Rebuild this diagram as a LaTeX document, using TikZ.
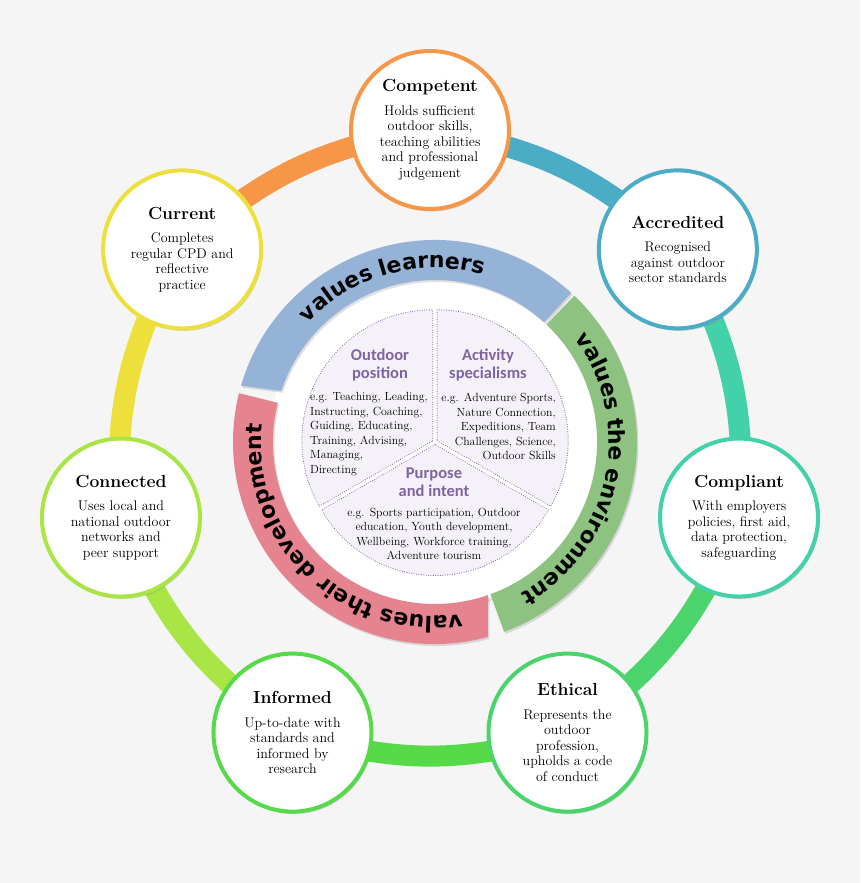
\documentclass[tikz,border=0pt]{standalone}
\usepackage{fontspec}
\usepackage{xcolor}
\usepackage{tikz}
\usetikzlibrary{positioning,shadows,backgrounds,decorations.text}
\newfontfamily\carlito{Carlito}
\newfontfamily\arcfont{DejaVu Sans}
\definecolor{pagebg}{HTML}{F5F5F5}
\definecolor{ringorange}{HTML}{F79646}
\definecolor{ringblue}{HTML}{4BACC6}
\definecolor{ringteal}{HTML}{42D1A8}
\definecolor{ringgreen}{HTML}{4CD46C}
\definecolor{ringgreentwo}{HTML}{57DA4A}
\definecolor{ringlime}{HTML}{A8E545}
\definecolor{ringyellow}{HTML}{EDE03D}
\definecolor{bandblue}{HTML}{95B3D7}
\definecolor{bandgreen}{HTML}{8DC281}
\definecolor{bandred}{HTML}{E5838F}
\definecolor{purp}{HTML}{8064A2}
\definecolor{lavender}{HTML}{F4F1F8}
\newcommand{\traittitle}[1]{{\fontsize{17.5}{20}\selectfont\bfseries #1}\\[8pt]}

\begin{document}
\begin{tikzpicture}[x=1pt, y=1pt,
  trait/.style={circle, draw=#1, line width=4pt, fill=white, minimum size=158pt, inner sep=0pt, align=center,
    font=\fontsize{14}{15.5}\selectfont,
    drop shadow={shadow xshift=1.5pt, shadow yshift=-2.5pt, opacity=0.3}},
  seg/.style={draw=#1, line width=21pt},
  band/.style={fill=#1, drop shadow={shadow xshift=1.5pt, shadow yshift=-2pt, opacity=0.25}},
  arclabel/.style={decorate, decoration={text along path, text align=center,
    text={|\arcfont\bfseries\fontsize{22}{22}\selectfont|#1}}},
  sector/.style={fill=lavender, draw=purp, line width=1.1pt, dash pattern=on 0pt off 2.4pt, line cap=round},
  heading/.style={font=\carlito\bfseries\fontsize{16.5}{18}\selectfont, text=purp, align=center},
  detail/.style={font=\fontsize{11.8}{14.5}\selectfont, inner sep=0pt}
]
\useasboundingbox (-430,-436) rectangle (430,447);

% inner wheel
\fill[white, drop shadow={shadow xshift=1pt, shadow yshift=-2pt, opacity=0.2}] (5,5) circle[radius=166];
\begin{scope}[shift={(5,5)}]
  \path[band=bandgreen] (46.4:202) arc[start angle=46.4, end angle=-70, radius=202] -- ++(-70:-40)
    arc[start angle=-70, end angle=46.5, radius=162] -- cycle;
  \path[band=bandblue] (163.8:202) arc[start angle=163.8, end angle=47.6, radius=202] -- ++(47.6:-40)
    arc[start angle=47.6, end angle=161.6, radius=162] -- cycle;
  \path[band=bandred] (-74.8:202) arc[start angle=-74.8, end angle=-194, radius=202] -- ++(-194:-40)
    arc[start angle=166, end angle=289.1, radius=162] -- cycle;
  \path[arclabel={values learners}] (163:174) arc[start angle=163, end angle=48, radius=174];
  \path[arclabel={values the environment}] (46:174) arc[start angle=46, end angle=-70, radius=174];
  \path[arclabel={values their development}] (-73:174) arc[start angle=-73, end angle=-194, radius=174];
  % three sectors
  \path[sector] (150:2.5) -- ++(90:131) arc[start angle=90, end angle=210, radius=131] -- cycle;
  \path[sector] (30:2.5) -- ++(-30:131) arc[start angle=-30, end angle=90, radius=131] -- cycle;
  \path[sector] (270:2.5) -- ++(210:131) arc[start angle=210, end angle=330, radius=131] -- cycle;
\end{scope}

\node[heading] (outdoor) at (-50,82) {Outdoor\\position};
\node[detail, anchor=west, align=left] (outdoorlist) at (-120,13) {e.g. Teaching, Leading,\\Instructing, Coaching,\\Guiding, Educating,\\Training, Advising,\\Managing,\\Directing};
\node[heading] (activity) at (58,82) {Activity\\specialisms};
\node[detail, anchor=east, align=right] (activitylist) at (126,20.5) {e.g. Adventure Sports,\\Nature Connection,\\Expeditions, Team\\Challenges, Science,\\Outdoor Skills};
\node[heading] (purpose) at (4,-35) {Purpose\\and intent};
\node[detail, align=center] (purposelist) at (4,-87) {e.g. Sports participation, Outdoor\\education, Youth development,\\Wellbeing, Workforce training,\\Adventure tourism};

% outer ring of traits
\node[trait=ringorange] (competent) at (90:317) {\traittitle{Competent}Holds sufficient\\outdoor skills,\\teaching abilities\\and professional\\judgement};
\node[trait=ringblue] (accredited) at (38.57:317) {\traittitle{Accredited}Recognised\\against outdoor\\sector standards};
\node[trait=ringteal] (compliant) at (-12.86:317) {\traittitle{Compliant}With employers\\policies, first aid,\\data protection,\\safeguarding};
\node[trait=ringgreen] (ethical) at (-64.29:317) {\traittitle{Ethical}Represents the\\outdoor\\profession,\\upholds a code\\of conduct};
\node[trait=ringgreentwo] (informed) at (-115.71:317) {\traittitle{Informed}Up-to-date with\\standards and\\informed by\\research};
\node[trait=ringlime] (connected) at (-167.14:317) {\traittitle{Connected}Uses local and\\national outdoor\\networks and\\peer support};
\node[trait=ringyellow] (current) at (141.43:317) {\traittitle{Current}Completes\\regular CPD and\\reflective\\practice};

\begin{scope}[on background layer]
  \fill[pagebg] (-430,-436) rectangle (430,447);
  \draw[seg=ringorange] (current.center) to[bend left=17] (competent.center);
  \draw[seg=ringblue] (competent.center) to[bend left=17] (accredited.center);
  \draw[seg=ringteal] (accredited.center) to[bend left=17] (compliant.center);
  \draw[seg=ringgreen] (compliant.center) to[bend left=17] (ethical.center);
  \draw[seg=ringgreentwo] (ethical.center) to[bend left=17] (informed.center);
  \draw[seg=ringlime] (informed.center) to[bend left=17] (connected.center);
  \draw[seg=ringyellow] (connected.center) to[bend left=17] (current.center);
\end{scope}
\end{tikzpicture}
\end{document}
